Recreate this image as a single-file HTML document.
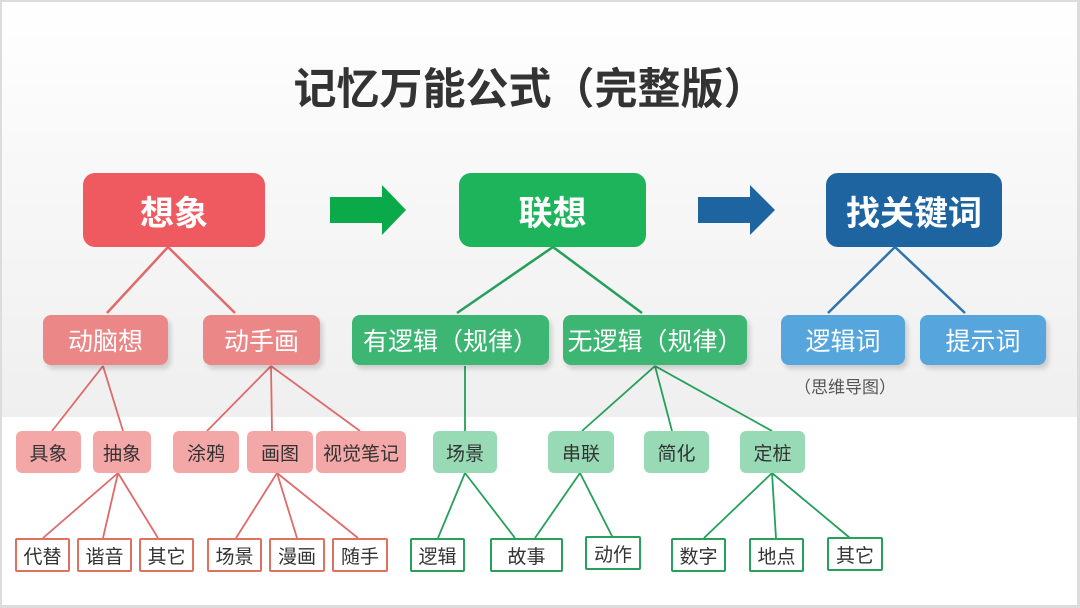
<!DOCTYPE html>
<html><head><meta charset="utf-8">
<style>
*{margin:0;padding:0;box-sizing:border-box}
body{width:1080px;height:608px;overflow:hidden;background:#fff;font-family:"Liberation Sans","Noto Sans CJK SC",sans-serif;position:relative}
#bg{position:absolute;left:0;top:0;width:1080px;height:417px;background:linear-gradient(180deg,#fff 0%,#f8f8f8 40%,#efefef 100%)}
#frame{position:absolute;left:0;top:0;width:1080px;height:608px;border:2px solid #dcdcdc;border-right-width:3px;border-bottom-width:3px}
.b{position:absolute;display:flex;align-items:center;justify-content:center;white-space:nowrap}
.t{border-radius:12px;color:#fff;font-weight:bold;font-size:34px}
.l2{border-radius:8px;color:#fff;font-size:25px;box-shadow:3px 4px 5px rgba(0,0,0,.15)}
.l3{border-radius:6px;color:#333;font-size:19px}
.l4{background:#fff;border:2px solid;color:#333;font-size:19px;border-radius:2px}
.pk2{background:#ec8787}.gr2{background:#3cb672}.bl2{background:#56a6dd}
.pk3{background:#f4a7a7}.gr3{background:#98dab5}
.pk4{border-color:#e0715f}.gr4{border-color:#27a05b}
svg{position:absolute;left:0;top:0}
</style></head><body>
<div id="bg"></div>
<div class="b" style="left:260px;top:56px;width:540px;height:60px;font-size:43px;font-weight:bold;color:#333;letter-spacing:0px">记忆万能公式（完整版）</div>
<svg width="1080" height="608">
<polygon points="330,197 382,197 382,185 406,210 382,235 382,223 330,223" fill="#0aaa4a"/>
<polygon points="698,197 750,197 750,185 775,210 750,235 750,223 698,223" fill="#1e64a0"/>
<g stroke="#e06a6a" stroke-width="2.5" fill="none">
<line x1="168" y1="247" x2="107" y2="313"/><line x1="168" y1="247" x2="235" y2="313"/>
</g>
<g stroke="#e06a6a" stroke-width="1.8" fill="none">
<line x1="103" y1="366" x2="52" y2="431"/><line x1="103" y1="366" x2="123" y2="431"/>
<line x1="271" y1="366" x2="207" y2="431"/><line x1="271" y1="366" x2="272" y2="431"/><line x1="271" y1="366" x2="360" y2="431"/>
<line x1="118" y1="473" x2="43" y2="538"/><line x1="118" y1="473" x2="103" y2="538"/><line x1="118" y1="473" x2="158" y2="538"/>
<line x1="277" y1="473" x2="236" y2="538"/><line x1="277" y1="473" x2="297" y2="538"/><line x1="277" y1="473" x2="358" y2="538"/>
</g>
<g stroke="#24a05a" stroke-width="2.5" fill="none">
<line x1="553" y1="247" x2="457" y2="313"/><line x1="553" y1="247" x2="642" y2="313"/>
</g>
<g stroke="#24a05a" stroke-width="1.8" fill="none">
<line x1="465" y1="366" x2="465" y2="431"/>
<line x1="655" y1="366" x2="582" y2="431"/><line x1="655" y1="366" x2="672" y2="431"/><line x1="655" y1="366" x2="772" y2="431"/>
<line x1="465" y1="473" x2="438" y2="538"/><line x1="465" y1="473" x2="515" y2="538"/>
<line x1="580" y1="473" x2="535" y2="538"/><line x1="580" y1="473" x2="613" y2="538"/>
<line x1="772" y1="473" x2="704" y2="538"/><line x1="772" y1="473" x2="776" y2="538"/><line x1="772" y1="473" x2="850" y2="538"/>
</g>
<g stroke="#2f73ad" stroke-width="2.5" fill="none">
<line x1="895" y1="247" x2="828" y2="313"/><line x1="895" y1="247" x2="965" y2="313"/>
</g>
</svg>
<div class="b t" style="left:83px;top:173px;width:182px;height:74px;background:#ee5a5f">想象</div>
<div class="b t" style="left:459px;top:173px;width:187px;height:74px;background:#1db45b">联想</div>
<div class="b t" style="left:826px;top:173px;width:176px;height:74px;background:#1e64a0">找关键词</div>

<div class="b l2 pk2" style="left:43px;top:315px;width:125px;height:50px">动脑想</div>
<div class="b l2 pk2" style="left:203px;top:315px;width:117px;height:50px">动手画</div>
<div class="b l2 gr2" style="left:352px;top:315px;width:197px;height:50px">有逻辑（规律）</div>
<div class="b l2 gr2" style="left:563px;top:315px;width:184px;height:50px">无逻辑（规律）</div>
<div class="b l2 bl2" style="left:781px;top:315px;width:124px;height:50px">逻辑词</div>
<div class="b l2 bl2" style="left:920px;top:315px;width:126px;height:50px">提示词</div>
<div class="b" style="left:780px;top:373px;width:130px;height:24px;font-size:17px;color:#555">（思维导图）</div>

<div class="b l3 pk3" style="left:16px;top:431px;width:65px;height:42px">具象</div>
<div class="b l3 pk3" style="left:93px;top:431px;width:58px;height:42px">抽象</div>
<div class="b l3 pk3" style="left:173px;top:431px;width:66px;height:42px">涂鸦</div>
<div class="b l3 pk3" style="left:247px;top:431px;width:66px;height:42px">画图</div>
<div class="b l3 pk3" style="left:316px;top:431px;width:90px;height:42px">视觉笔记</div>
<div class="b l3 gr3" style="left:433px;top:431px;width:64px;height:42px">场景</div>
<div class="b l3 gr3" style="left:548px;top:431px;width:66px;height:42px">串联</div>
<div class="b l3 gr3" style="left:644px;top:431px;width:65px;height:42px">简化</div>
<div class="b l3 gr3" style="left:740px;top:431px;width:65px;height:42px">定桩</div>

<div class="b l4 pk4" style="left:15px;top:538px;width:55px;height:34px">代替</div>
<div class="b l4 pk4" style="left:77px;top:538px;width:55px;height:34px">谐音</div>
<div class="b l4 pk4" style="left:139px;top:538px;width:55px;height:34px">其它</div>
<div class="b l4 pk4" style="left:207px;top:538px;width:55px;height:34px">场景</div>
<div class="b l4 pk4" style="left:269px;top:538px;width:56px;height:34px">漫画</div>
<div class="b l4 pk4" style="left:332px;top:538px;width:56px;height:34px">随手</div>
<div class="b l4 gr4" style="left:410px;top:538px;width:55px;height:34px">逻辑</div>
<div class="b l4 gr4" style="left:490px;top:538px;width:73px;height:34px">故事</div>
<div class="b l4 gr4" style="left:585px;top:536px;width:56px;height:34px">动作</div>
<div class="b l4 gr4" style="left:671px;top:538px;width:55px;height:34px">数字</div>
<div class="b l4 gr4" style="left:749px;top:538px;width:55px;height:34px">地点</div>
<div class="b l4 gr4" style="left:827px;top:537px;width:56px;height:34px">其它</div>
<div id="frame"></div>
</body></html>
